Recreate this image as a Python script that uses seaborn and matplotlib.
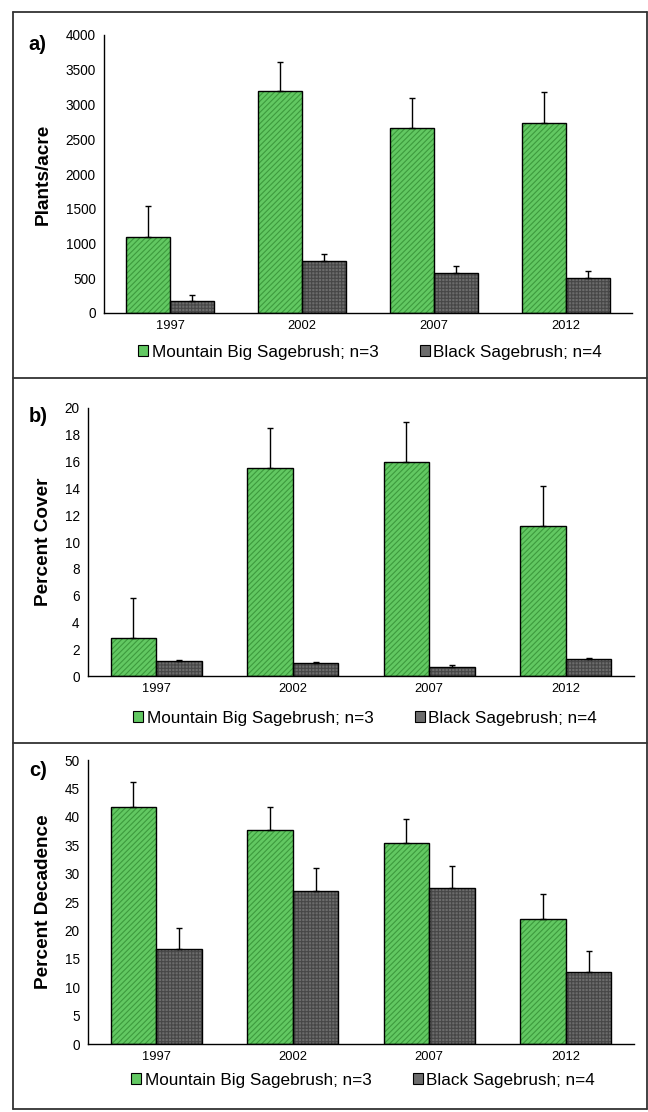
import numpy as np
import pandas as pd
import seaborn as sns
import matplotlib.pyplot as plt
from matplotlib.patches import Rectangle, Patch
from matplotlib.lines import Line2D

# data
years = ['1997', '2002', '2007', '2012']
species = ['Mountain Big Sagebrush; n=3', 'Black Sagebrush; n=4']

density_mbs = [1100, 3190, 2665, 2735]
density_mbs_se = [440, 425, 430, 445]
density_blk = [175, 750, 575, 505]
density_blk_se = [85, 100, 100, 100]

cover_mbs = [2.85, 15.5, 15.95, 11.2]
cover_mbs_se = [3.0, 3.0, 3.0, 3.0]
cover_blk = [1.1, 0.95, 0.65, 1.3]
cover_blk_se = [0.1, 0.08, 0.2, 0.05]

decad_mbs = [41.8, 37.6, 35.3, 22.0]
decad_mbs_se = [4.3, 4.2, 4.4, 4.4]
decad_blk = [16.7, 27.0, 27.4, 12.6]
decad_blk_se = [3.8, 3.9, 3.9, 3.7]

green = '#62c862'
green_hatch = '#3d9a3d'
gray = '#6c6c6c'
gray_hatch = '#474747'

sns.set_style('white')
plt.rcParams['font.family'] = ['Liberation Sans', 'DejaVu Sans']
plt.rcParams['hatch.linewidth'] = 0.8
plt.rcParams['text.color'] = 'black'
plt.rcParams['axes.labelcolor'] = 'black'
plt.rcParams['xtick.color'] = 'black'
plt.rcParams['ytick.color'] = 'black'

W, H = 648, 1112
fig = plt.figure(figsize=(W / 100, H / 100), dpi=100)


def px_axes(left, right, top, bottom):
    ax = fig.add_axes([left / W, 1 - bottom / H, (right - left) / W, (bottom - top) / H])
    return ax, left, right


def draw_panel(axinfo, mbs, mbs_se, blk, blk_se, ymax, step, ylabel, letter, letter_xy, legend_xy):
    ax, left, right = axinfo
    df = pd.DataFrame({
        'year': years * 2,
        'species': [species[0]] * 4 + [species[1]] * 4,
        'value': mbs + blk,
    })
    sns.barplot(data=df, x='year', y='value', hue='species', hue_order=species,
                palette=[green, gray], width=0.67, errorbar=None, legend=False,
                saturation=1, ax=ax)

    for cont, vals, errs, hc, hatch in zip(ax.containers, [mbs, blk], [mbs_se, blk_se],
                                           [green_hatch, gray_hatch], ['//////', '+++++']):
        xs = []
        for bar in cont:
            bar.set_hatch(hatch)
            bar.set_edgecolor(hc)
            bar.set_linewidth(0)
            ax.add_patch(Rectangle(bar.get_xy(), bar.get_width(), bar.get_height(),
                                   fill=False, ec='black', lw=1.0, zorder=3))
            xs.append(bar.get_x() + bar.get_width() / 2)
        ax.errorbar(xs, vals, yerr=[np.zeros(len(errs)), errs], fmt='none',
                    ecolor='black', elinewidth=1, capsize=2.5, capthick=1, zorder=2)

    ax.set_ylim(0, ymax)
    ax.set_yticks(np.arange(0, ymax + step / 2, step))
    ax.set_xlim(-0.5, 3.5)
    ax.set_xticks(range(4))
    ax.set_xticklabels(years)
    ax.set_xticks([-0.5, 0.5, 1.5, 2.5, 3.5], minor=True)
    ax.tick_params(axis='x', which='major', length=0, labelsize=9.3, pad=5)
    ax.tick_params(axis='x', which='minor', length=4, width=1, direction='out', color='black')
    ax.tick_params(axis='y', length=4, width=1, direction='out', color='black', labelsize=9.8, pad=2)
    ax.set_xlabel('')
    ax.set_ylabel(ylabel, fontsize=13.7, fontweight='bold')
    ax.yaxis.set_label_coords((52 - left) / (right - left), 0.5)
    for s in ['top', 'right']:
        ax.spines[s].set_visible(False)
    for s in ['left', 'bottom']:
        ax.spines[s].set_color('black')
        ax.spines[s].set_linewidth(1)

    fig.text(letter_xy[0] / W, 1 - letter_xy[1] / H, letter, fontsize=14.5,
             fontweight='bold', ha='center', va='center')

    handles = [Patch(facecolor=green, edgecolor='black', lw=0.8),
               Patch(facecolor=gray, edgecolor='black', lw=0.8)]
    fig.legend(handles, species, loc='center', ncol=2, frameon=False, fontsize=12.3,
               bbox_to_anchor=(legend_xy[0] / W, 1 - legend_xy[1] / H),
               handlelength=0.6, handleheight=0.6, handletextpad=0.2,
               columnspacing=2.4, borderaxespad=0)


ax_a = px_axes(104, 632, 35, 313)
draw_panel(ax_a, density_mbs, density_mbs_se, density_blk, density_blk_se,
           4000, 500, 'Plants/acre', 'a)', (37, 45), (370, 352))

ax_b = px_axes(88, 634, 408, 676)
draw_panel(ax_b, cover_mbs, cover_mbs_se, cover_blk, cover_blk_se,
           20, 2, 'Percent Cover', 'b)', (38, 416), (365, 718))

ax_c = px_axes(88, 634, 760, 1044)
draw_panel(ax_c, decad_mbs, decad_mbs_se, decad_blk, decad_blk_se,
           50, 5, 'Percent Decadence', 'c)', (38, 770), (363, 1080))

# panel frames
frame_kw = dict(color='#333333', lw=1.3, transform=fig.transFigure)
for y in [12, 378, 743, 1109]:
    fig.add_artist(Line2D([13 / W, 647 / W], [1 - y / H, 1 - y / H], **frame_kw))
for x in [13, 647]:
    fig.add_artist(Line2D([x / W, x / W], [1 - 12 / H, 1 - 1109 / H], **frame_kw))

fig.savefig('out.png', dpi=100)
